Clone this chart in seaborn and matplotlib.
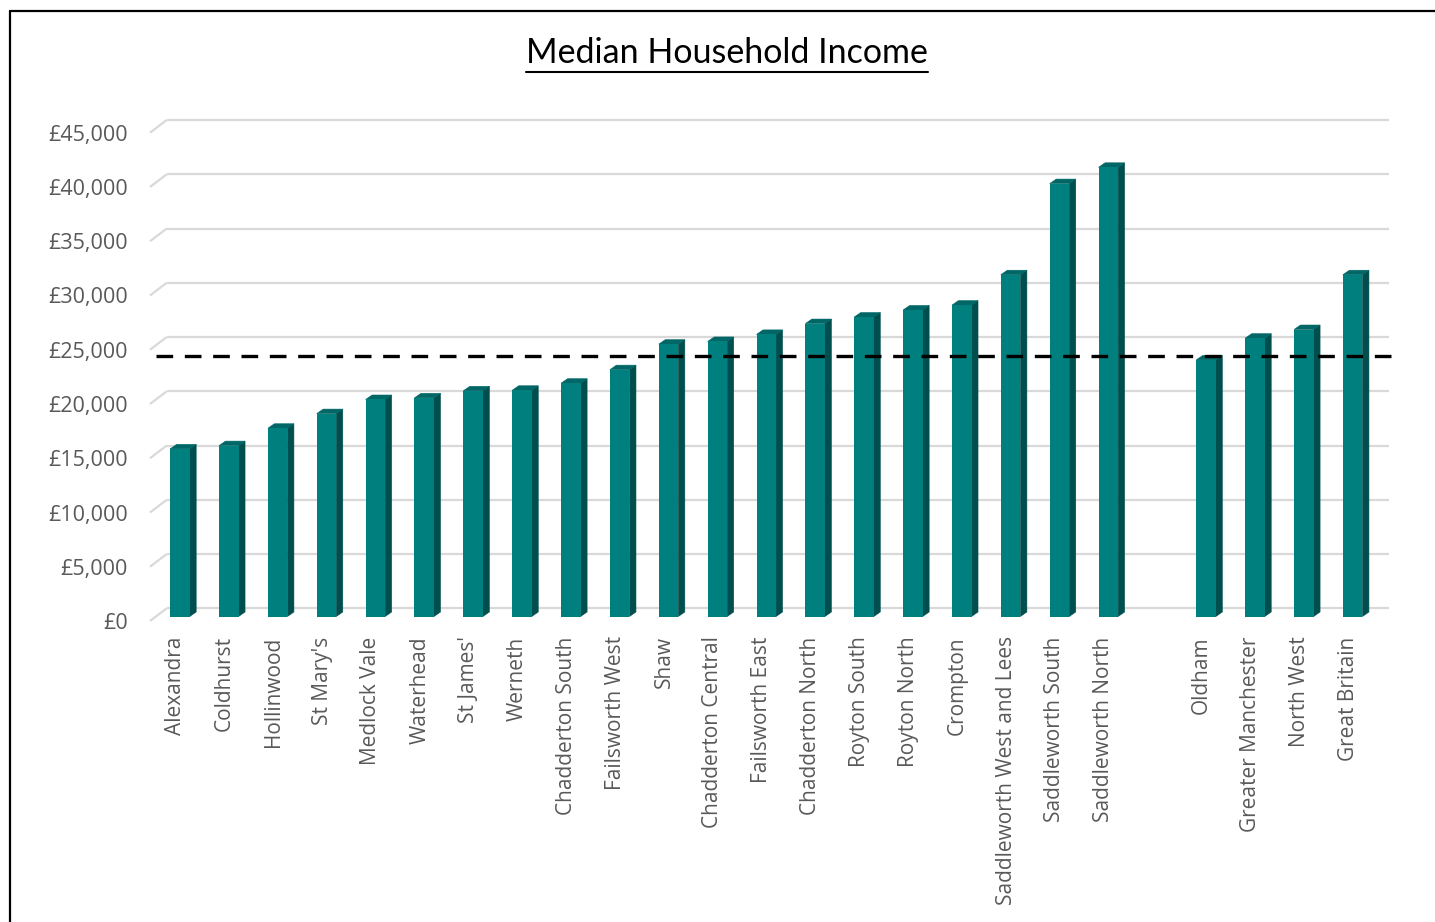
import matplotlib
matplotlib.use("Agg")
import matplotlib.pyplot as plt
from matplotlib.transforms import offset_copy
from matplotlib.lines import Line2D
from matplotlib.patches import Polygon
from matplotlib.ticker import FuncFormatter
import seaborn as sns
import pandas as pd

# Median household income by Oldham ward, plus comparator areas
wards = [
    "Alexandra", "Coldhurst", "Hollinwood", "St Mary's", "Medlock Vale",
    "Waterhead", "St James'", "Werneth", "Chadderton South", "Failsworth West",
    "Shaw", "Chadderton Central", "Failsworth East", "Chadderton North",
    "Royton South", "Royton North", "Crompton", "Saddleworth West and Lees",
    "Saddleworth South", "Saddleworth North",
]
ward_income = [
    15450, 15750, 17350, 18700, 20000,
    20150, 20800, 20850, 21500, 22750,
    25100, 25350, 26000, 27000,
    27600, 28250, 28700, 31500,
    39900, 41400,
]
areas = ["Oldham", "Greater Manchester", "North West", "Great Britain"]
area_income = [23650, 25650, 26450, 31500]
reference_income = 24000
y_ticks = list(range(0, 45001, 5000))

FRONT = "#007f7f"
SIDE = "#004e4e"
TOP = "#006666"
GRID = "#d9d9d9"
LABEL = "#595959"

sns.set_theme(style="white")
plt.rcParams["font.family"] = ["Open Sans", "DejaVu Sans"]

df = pd.DataFrame({"area": wards + areas, "income": ward_income + area_income})
order = wards + [" "] + areas

W, H = 1435, 922
fig = plt.figure(figsize=(W / 100, H / 100), dpi=100)
fig.patch.set_facecolor("white")
ax = fig.add_axes([150 / W, (H - 621) / H, 1222.6 / W, 488.25 / H])
ax.set_facecolor("none")

sns.barplot(data=df, x="area", y="income", order=order, color=FRONT,
            width=0.4, saturation=1, ax=ax, zorder=3)

ax.set_xlim(-0.52, 24.5)
ax.set_ylim(0, 45000)
ax.set_xlabel("")
ax.set_ylabel("")
for s in ax.spines.values():
    s.set_visible(False)

ax.set_yticks(y_ticks)
ax.yaxis.set_major_formatter(FuncFormatter(lambda v, _: f"£{v:,.0f}"))
ax.tick_params(axis="y", length=0, pad=16, labelsize=15.5, labelcolor=LABEL)
ax.tick_params(axis="x", length=0, pad=11, labelsize=15, labelcolor=LABEL,
               labelrotation=90)

inv = ax.transData.inverted()


def shifted(x, y, dx, dy):
    px, py = ax.transData.transform((x, y))
    return inv.transform((px + dx, py + dy))


# back wall gridlines with short floor-depth connectors on the left
wall_dx, wall_dy = 16.7, 12.7
x0, x1 = ax.get_xlim()
for v in y_ticks:
    bx0, bv = shifted(x0, v, wall_dx, wall_dy)
    bx1, _ = shifted(x1, v, wall_dx, wall_dy)
    ax.plot([bx0, bx1], [bv, bv], color=GRID, lw=1.6, zorder=1,
            clip_on=False, solid_capstyle="butt")
    ax.plot([x0, bx0], [v, bv], color=GRID, lw=1.6, zorder=1,
            clip_on=False, solid_capstyle="butt")

# columns sit a little behind the front of the floor; add side and top faces
bar_dx, bar_dy = 4.5, 4.5
depth_dx, depth_dy = 6.5, 4.5
bar_shift = offset_copy(ax.transData, fig=fig, x=bar_dx, y=bar_dy, units="dots")
for p in list(ax.patches):
    p.set_transform(bar_shift)
    p.set_clip_on(False)
    p.set_linewidth(0)
    bx, bw, bh = p.get_x(), p.get_width(), p.get_height()
    tl = shifted(bx, bh, bar_dx, bar_dy)
    tr = shifted(bx + bw, bh, bar_dx, bar_dy)
    br = shifted(bx + bw, 0, bar_dx, bar_dy)
    tr_b = shifted(bx + bw, bh, bar_dx + depth_dx, bar_dy + depth_dy)
    tl_b = shifted(bx, bh, bar_dx + depth_dx, bar_dy + depth_dy)
    br_b = shifted(bx + bw, 0, bar_dx + depth_dx, bar_dy + depth_dy)
    ax.add_patch(Polygon([br, tr, tr_b, br_b], closed=True, facecolor=SIDE,
                         edgecolor=SIDE, lw=0.4, zorder=2.9, clip_on=False))
    ax.add_patch(Polygon([tl, tr, tr_b, tl_b], closed=True, facecolor=TOP,
                         edgecolor=TOP, lw=0.4, zorder=2.9, clip_on=False))

# dashed borough reference line
ax.plot([-0.495, 24.87], [reference_income, reference_income],
        transform=bar_shift, color="black", lw=2.4, dashes=(5, 3.5),
        zorder=5, clip_on=False)

# title with underline
title = fig.text(727 / W, 1 - 63 / H, "Median Household Income", ha="center",
                 va="baseline", fontsize=24.5, color="black",
                 family=["Lato", "DejaVu Sans"])
fig.canvas.draw()
tb = title.get_window_extent()
uy = 1 - 71.7 / H
fig.add_artist(Line2D([tb.x0 / W, tb.x1 / W], [uy, uy], color="black", lw=1.5))

# chart frame
fx = 9.5 / W
fy = 1 - 11.5 / H
fig.add_artist(Line2D([fx, fx], [0, fy], color="black", lw=1.6))
fig.add_artist(Line2D([fx, 1], [fy, fy], color="black", lw=1.6))

fig.savefig("out.png", dpi=100, facecolor="white")
